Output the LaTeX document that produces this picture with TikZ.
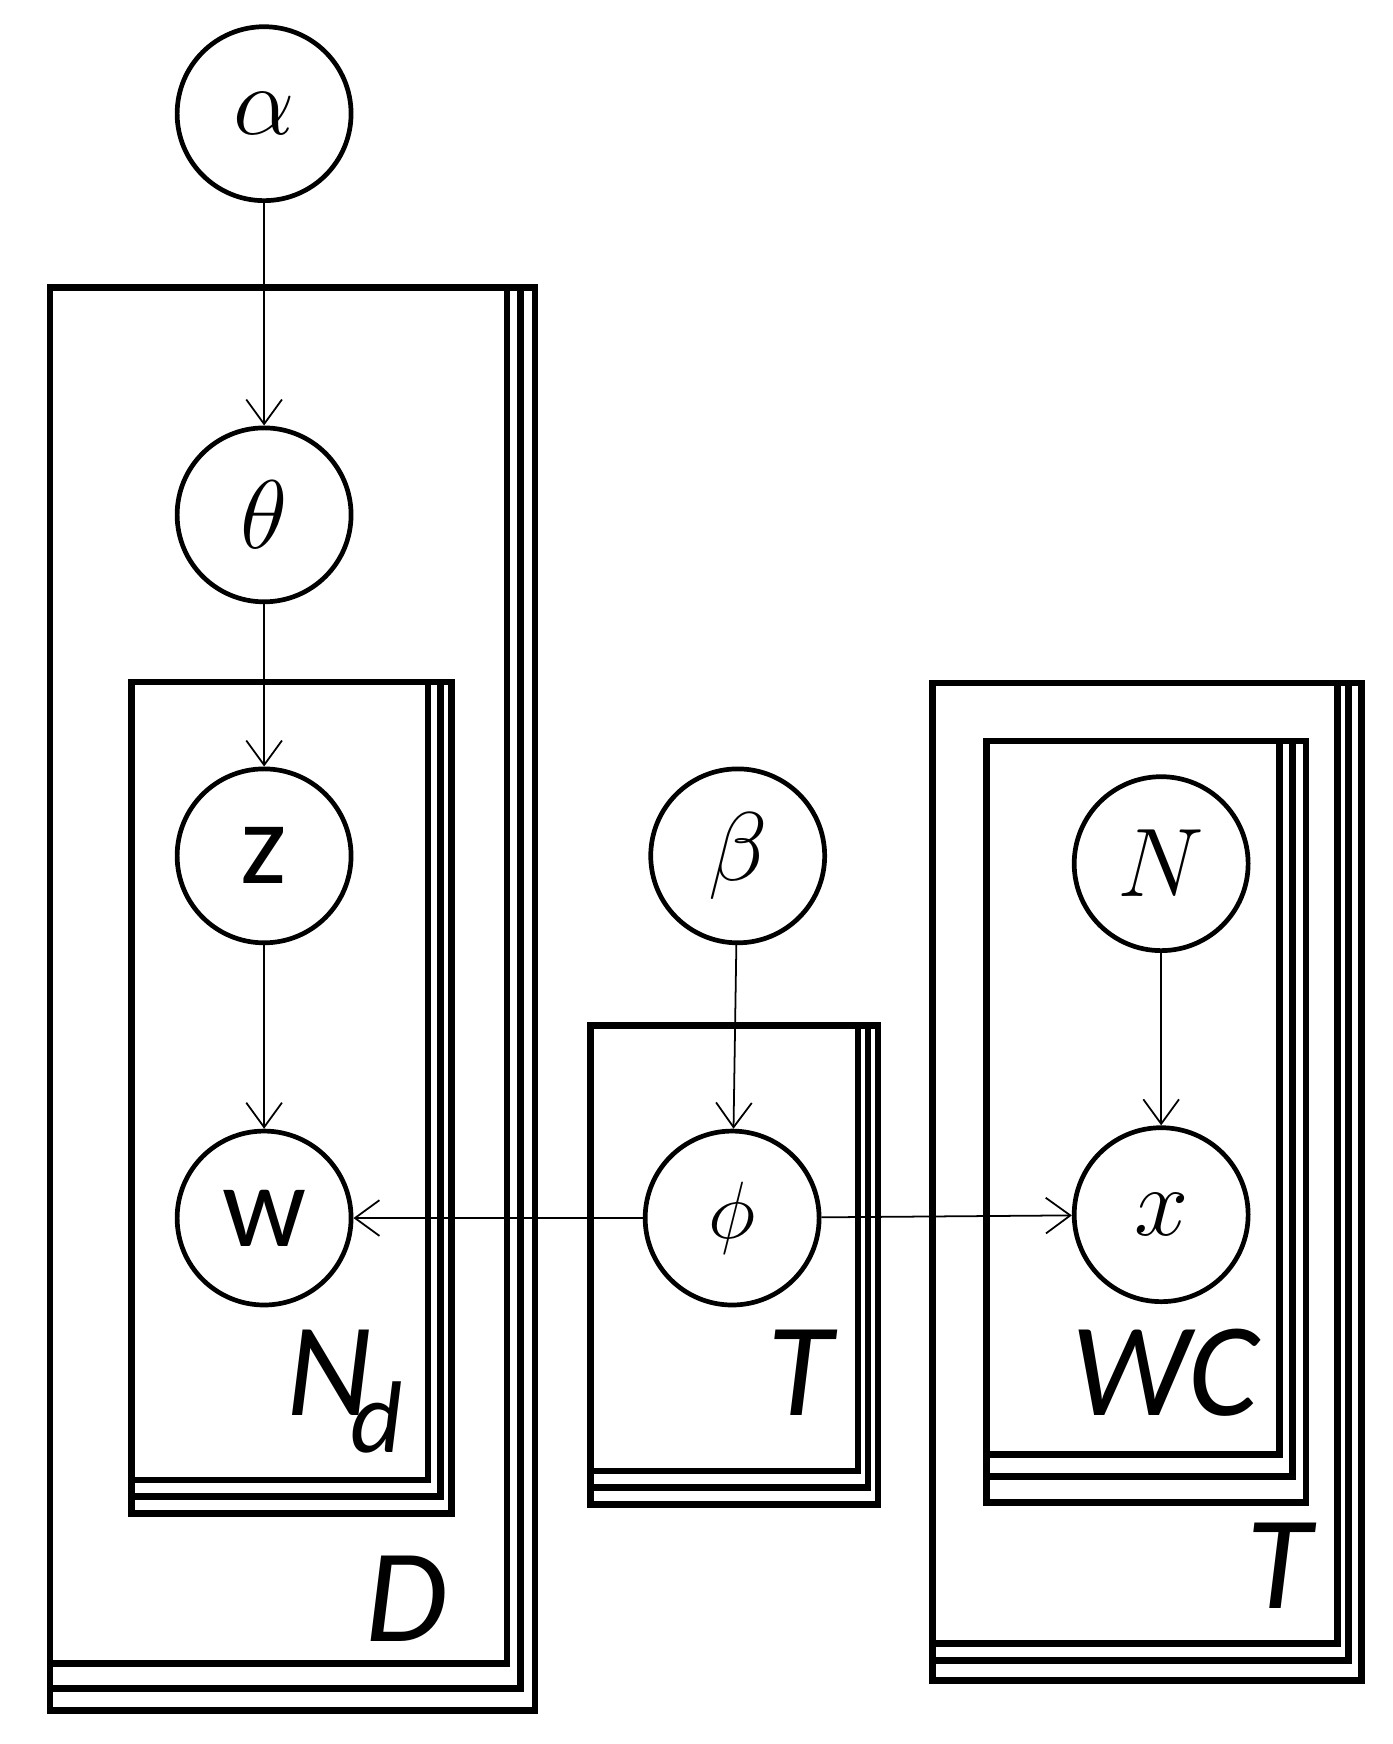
\documentclass[tikz,border=0pt]{standalone}
\usepackage{fontspec}
\newfontfamily\carl{Carlito}
\usetikzlibrary{arrows.meta}
\begin{document}
\begin{tikzpicture}[x=0.01cm,y=-0.01cm,
  var/.style={circle,draw,line width=1.2pt,minimum size=1.56cm,inner sep=0pt,font=\fontsize{28}{30}\selectfont},
  plate/.style={draw,line width=1.7pt},
  lbl/.style={font=\carl\itshape\fontsize{34}{36}\selectfont,inner sep=0pt},
  arr/.style={line width=0.45pt,-{Straight Barb[length=2.2mm,width=3.2mm]}}]
\useasboundingbox (0,0) rectangle (1250,1565);
% plates
\draw[plate] (45,258) rectangle (480,1535);
\draw[plate] (45,258) rectangle (467,1515);
\draw[plate] (45,258) rectangle (455,1493);
\draw[plate] (118,612) rectangle (405,1358);
\draw[plate] (118,612) rectangle (395,1343);
\draw[plate] (118,612) rectangle (384,1328);
\draw[plate] (530,920) rectangle (788,1350);
\draw[plate] (530,920) rectangle (779,1335);
\draw[plate] (530,920) rectangle (770,1320);
\draw[plate] (837,613) rectangle (1222,1508);
\draw[plate] (837,613) rectangle (1210,1490);
\draw[plate] (837,613) rectangle (1200,1475);
\draw[plate] (885,665) rectangle (1172,1348);
\draw[plate] (885,665) rectangle (1160,1325);
\draw[plate] (885,665) rectangle (1148,1305);
% nodes
\node[var] (alpha) at (237,102) {$\alpha$};
\node[var] (theta) at (237,462) {$\theta$};
\node[var,font=\carl\fontsize{30}{32}\selectfont] (z) at (237,768) {z};
\node[var,font=\carl\fontsize{30}{32}\selectfont] (w) at (237,1093) {w};
\node[var] (beta) at (662,768) {$\beta$};
\node[var,font=\fontsize{22}{24}\selectfont] (phi) at (657,1093) {$\phi$};
\node[var] (N) at (1042,775) {$N$};
\node[var] (x) at (1042,1090) {$x$};
% labels
\node[lbl] (Ld) at (365,1435) {D};
\node[lbl] (Lnd) at (296,1232) {N};
\node[lbl,font=\carl\itshape\fontsize{26}{28}\selectfont] (Lsub) at (338,1272) {d};
\node[lbl] (Lt1) at (718,1232) {T};
\node[lbl] (Lwc) at (1045,1232) {WC};
\node[lbl] (Lt2) at (1148,1405) {T};
% arrows
\draw[arr] (alpha) -- (theta);
\draw[arr] (theta) -- (z);
\draw[arr] (z) -- (w);
\draw[arr] (beta) -- (phi);
\draw[arr] (N) -- (x);
\draw[arr] (phi) -- (w);
\draw[arr] (phi) -- (x);
\end{tikzpicture}
\end{document}
